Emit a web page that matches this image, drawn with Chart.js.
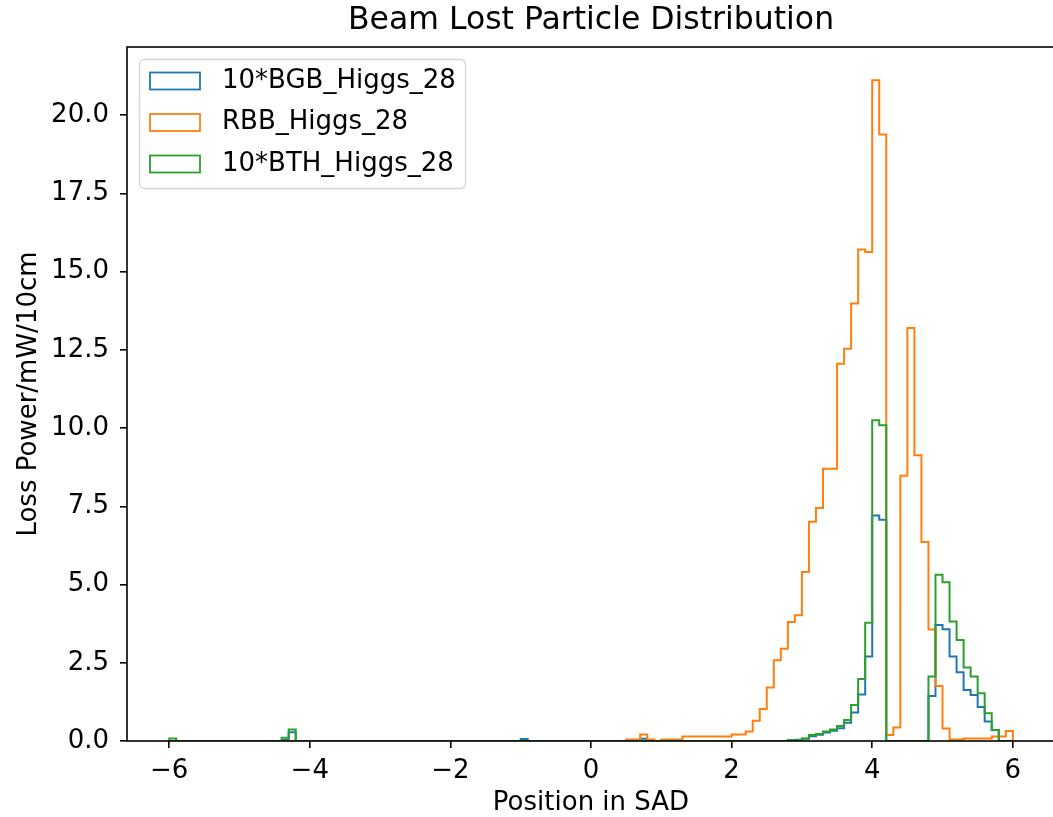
<!DOCTYPE html>
<html><head><meta charset="utf-8">
<script src="https://cdn.jsdelivr.net/npm/chart.js@4.4.0/dist/chart.umd.min.js"></script>
<style>
html,body{margin:0;padding:0;background:#fff;overflow:hidden;width:1053px;height:817px;}
#wrap{position:relative;width:1060px;height:817px;}
canvas{display:block;}
</style></head><body>
<div id="wrap"><canvas id="c" width="1060" height="817"></canvas></div>
<script>
// Histogram bins: 120 bins of width 0.1 from -6 to 6
const binStart = -6.0;
const binWidth = 0.1;

// 10*BGB_Higgs_28
const bgb = [
  0,0,0,0,0,0,0,0,0,0,
  0,0,0,0,0,0,0.03,0.28,0,0,
  0,0,0,0,0,0,0,0,0,0,
  0,0,0,0,0,0,0,0,0,0,
  0,0,0,0,0,0,0,0,0,0,
  0.06,0,0,0,0,0,0,0,0,0,
  0,0,0,0,0,0,0,0.07,0,0,
  0,0,0,0,0,0,0,0,0,0,
  0,0,0,0,0,0,0,0,0.02,0.04,
  0.07,0.15,0.20,0.27,0.33,0.41,0.58,0.91,1.49,2.70,
  7.21,7.07,0,0,0,0,0,0,1.44,3.71,
  3.57,2.70,2.20,1.63,1.47,1.09,0.62,0.35,0,0
];
// RBB_Higgs_28
const rbb = [
  0,0,0,0,0,0,0,0,0,0,
  0,0,0,0,0,0,0,0,0,0,
  0,0,0,0,0,0,0,0,0,0,
  0,0,0,0,0,0,0,0,0,0,
  0,0,0,0,0,0,0,0,0,0,
  0,0,0,0,0,0,0,0,0,0,
  0,0,0,0,0,0.05,0.05,0.21,0.05,0,
  0.05,0.05,0.05,0.14,0.14,0.14,0.14,0.14,0.14,0.14,
  0.21,0.21,0.30,0.65,1.02,1.71,2.58,2.95,3.80,4.02,
  5.40,7.01,7.45,8.70,8.70,12.06,12.54,13.98,15.71,15.63,
  21.12,19.38,0.19,0.43,8.48,13.20,9.13,6.36,3.56,1.76,
  0.40,0.05,0.05,0.08,0.08,0.08,0.08,0.14,0.14,0.32
];
// 10*BTH_Higgs_28
const bth = [
  0.08,0,0,0,0,0,0,0,0,0,
  0,0,0,0,0,0,0.10,0.37,0,0,
  0,0,0,0,0,0,0,0,0,0,
  0,0,0,0,0,0,0,0,0,0,
  0,0,0,0,0,0,0,0,0,0,
  0,0,0,0,0,0,0,0,0,0,
  0,0,0,0,0,0,0,0,0,0,
  0,0,0,0,0,0,0,0,0,0,
  0,0,0,0,0,0,0,0,0.02,0.03,
  0.08,0.19,0.22,0.30,0.37,0.48,0.67,1.15,1.98,3.78,
  10.25,10.09,0,0,0,0,0,0,2.06,5.31,
  5.07,3.82,3.23,2.35,2.06,1.53,0.89,0.35,0,0
];

const seriesLabels = ['10*BGB_Higgs_28', 'RBB_Higgs_28', '10*BTH_Higgs_28'];
const seriesColors = ['#1f77b4', '#ff7f0e', '#2ca02c'];
const xTicks = [-6, -4, -2, 0, 2, 4, 6];
const yTicks = [0, 2.5, 5, 7.5, 10, 12.5, 15, 17.5, 20];
const xRange = [-6.6, 6.6];
const yRange = [0, 22.18];

// step outline (matplotlib histtype='step') built from bin edges and values
function stepPoints(vals) {
  const edge = i => +(binStart + i * binWidth).toFixed(3);
  const pts = [{x: edge(0), y: 0}];
  vals.forEach((v, i) => { pts.push({x: edge(i), y: v}, {x: edge(i + 1), y: v}); });
  pts.push({x: edge(vals.length), y: 0});
  return pts;
}

const FONT = 'DejaVu Sans';
const FS = 26;
Chart.defaults.font.family = FONT;
Chart.defaults.color = '#000';

const frame = {
  id: 'frame',
  afterDatasetsDraw(chart) {
    const {ctx, chartArea: a} = chart;
    ctx.save();
    ctx.strokeStyle = '#000';
    ctx.lineWidth = 1.6;
    ctx.strokeRect(a.left, a.top, a.right - a.left, a.bottom - a.top);
    ctx.restore();
  }
};

const boxLegend = {
  id: 'boxLegend',
  afterDraw(chart) {
    const {ctx} = chart;
    const x = 139, y = 59, w = 326, h = 129, r = 5;
    ctx.save();
    ctx.beginPath();
    ctx.roundRect(x + 0.5, y + 0.5, w, h, r);
    ctx.fillStyle = 'rgba(255,255,255,0.8)';
    ctx.fill();
    ctx.strokeStyle = 'rgba(204,204,204,0.8)';
    ctx.lineWidth = 1.3;
    ctx.stroke();
    const rows = chart.data.datasets.map((d, i) => ({label: d.label, color: d.borderColor, i}));
    ctx.font = FS + 'px ' + FONT;
    ctx.textBaseline = 'middle';
    ctx.textAlign = 'left';
    rows.forEach((row, k) => {
      const cy = 81 + k * 41.5;
      ctx.strokeStyle = row.color;
      ctx.lineWidth = 1.8;
      ctx.strokeRect(150, cy - 8.5, 50, 17);
      ctx.fillStyle = '#000';
      ctx.fillText(row.label, 222, cy);
    });
    ctx.restore();
  }
};

const datasets = [bgb, rbb, bth].map((vals, i) => ({
  label: seriesLabels[i],
  data: stepPoints(vals),
  borderColor: seriesColors[i],
  backgroundColor: seriesColors[i],
  borderWidth: 2,
  pointRadius: 0,
  pointHoverRadius: 0,
  fill: false,
  tension: 0,
  clip: 0,
  order: 3 - i
}));

new Chart(document.getElementById('c'), {
  type: 'line',
  data: {datasets},
  options: {
    responsive: false,
    animation: false,
    devicePixelRatio: 1,
    events: [],
    layout: {padding: {left: 0, right: 5, top: 0, bottom: 0}},
    plugins: {
      legend: {display: false},
      tooltip: {enabled: false},
      title: {
        display: true,
        fullSize: false,
        text: 'Beam Lost Particle Distribution',
        color: '#000',
        font: {family: FONT, size: 31.5, weight: 'normal', lineHeight: 1.2},
        padding: {top: 2, bottom: 7.2}
      }
    },
    scales: {
      x: {
        type: 'linear',
        min: xRange[0], max: xRange[1],
        afterBuildTicks: s => { s.ticks = xTicks.map(v => ({value: v})); },
        afterFit: s => { s.height = 76; },
        grid: {display: true, drawOnChartArea: false, drawTicks: true, tickLength: 7, color: '#000', lineWidth: 1.6},
        border: {display: false},
        ticks: {
          color: '#000', font: {family: FONT, size: FS}, padding: 8, maxRotation: 0, autoSkip: false,
          callback: v => (v < 0 ? '\u2212' + Math.abs(v) : String(v))
        },
        title: {display: true, text: 'Position in SAD', color: '#000', font: {family: FONT, size: FS, lineHeight: 1}, padding: {top: 0, bottom: 1}}
      },
      y: {
        type: 'linear',
        min: yRange[0], max: yRange[1],
        afterBuildTicks: s => { s.ticks = yTicks.map(v => ({value: v})); },
        afterFit: s => { s.width = 127; },
        grid: {display: true, drawOnChartArea: false, drawTicks: true, tickLength: 7, color: '#000', lineWidth: 1.6},
        border: {display: false},
        ticks: {
          color: '#000', font: {family: FONT, size: FS}, padding: 11, autoSkip: false,
          callback: v => Number(v).toFixed(1)
        },
        title: {display: true, text: 'Loss Power/mW/10cm', color: '#000', font: {family: FONT, size: FS, lineHeight: 1}, padding: {top: 16, bottom: 0}}
      }
    }
  },
  plugins: [frame, boxLegend]
});
</script>
</body></html>
